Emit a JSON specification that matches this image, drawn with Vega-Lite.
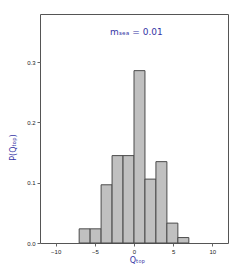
{
  "$schema": "https://vega.github.io/schema/vega-lite/v6.json",
  "width": 188,
  "height": 229,
  "autosize": {"type": "none"},
  "padding": {"left": 40, "top": 14, "right": 12, "bottom": 30},
  "background": "white",
  "config": {
    "view": {"stroke": "#555555", "strokeWidth": 1},
    "axis": {
      "grid": false,
      "domain": false,
      "tickColor": "#666666",
      "tickSize": 3,
      "labelFont": "Liberation Sans",
      "labelFontSize": 6,
      "labelColor": "#222222",
      "titleFont": "DejaVu Sans",
      "titleFontWeight": "normal",
      "titleFontSize": 8,
      "titleColor": "#3535a5"
    }
  },
  "layer": [
    {
      "data": {
        "values": [
          {"start": -7.0, "end": -5.6, "p": 0.0235},
          {"start": -5.6, "end": -4.2, "p": 0.0235},
          {"start": -4.2, "end": -2.8, "p": 0.0966},
          {"start": -2.8, "end": -1.4, "p": 0.145},
          {"start": -1.4, "end": 0.0, "p": 0.145},
          {"start": 0.0, "end": 1.4, "p": 0.286},
          {"start": 1.4, "end": 2.8, "p": 0.106},
          {"start": 2.8, "end": 4.2, "p": 0.135},
          {"start": 4.2, "end": 5.6, "p": 0.033},
          {"start": 5.6, "end": 7.0, "p": 0.009}
        ]
      },
      "mark": {"type": "rect", "fill": "#c0c0c0", "stroke": "#4a4a4a", "strokeWidth": 1},
      "encoding": {
        "x": {
          "field": "start",
          "type": "quantitative",
          "scale": {"domain": [-12, 12], "nice": false, "zero": false},
          "axis": {
            "values": [-10, -5, 0, 5, 10],
            "title": "Qₜₒₚ",
            "titleX": 97,
            "titleY": 17,
            "titleBaseline": "middle",
            "labelPadding": 2
          }
        },
        "x2": {"field": "end"},
        "y": {
          "field": "p",
          "type": "quantitative",
          "scale": {"domain": [0, 0.38], "nice": false},
          "axis": {
            "values": [0, 0.1, 0.2, 0.3],
            "format": ".1f",
            "title": "P(Qₜₒₚ)",
            "titleX": -27,
            "titleY": 133,
            "titleAngle": -90,
            "titleAlign": "center",
            "titleBaseline": "middle",
            "labelPadding": 2
          }
        },
        "y2": {"datum": 0}
      }
    },
    {
      "data": {"values": [{"x": 0.3, "y": 0.35, "label": "mₛₑₐ = 0.01"}]},
      "mark": {"type": "text", "font": "DejaVu Sans", "fontSize": 9, "color": "#3535a5", "align": "center", "baseline": "middle"},
      "encoding": {
        "x": {"field": "x", "type": "quantitative"},
        "y": {"field": "y", "type": "quantitative"},
        "text": {"field": "label"}
      }
    }
  ]
}
